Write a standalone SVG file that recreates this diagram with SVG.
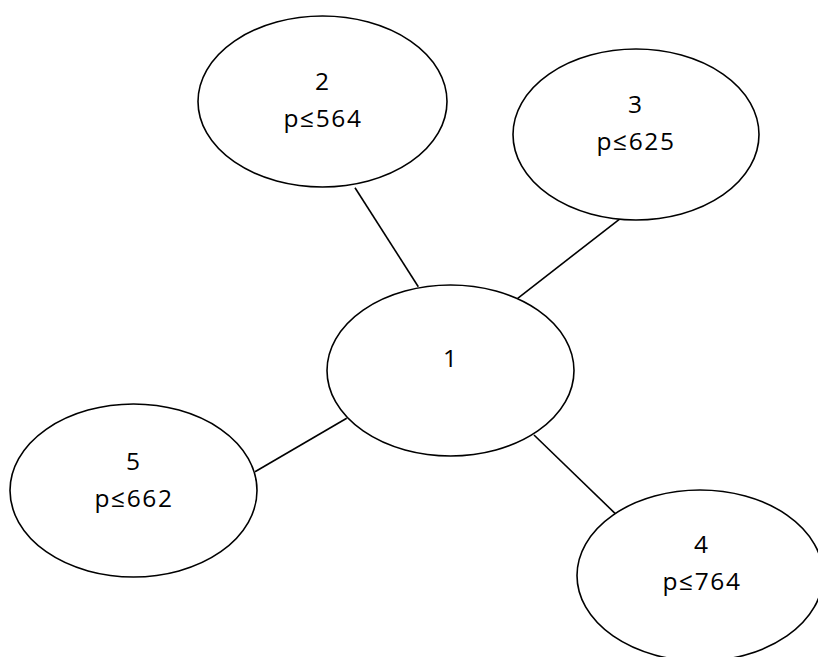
<svg xmlns="http://www.w3.org/2000/svg" width="818" height="657" viewBox="0 0 818 657">
<style>
.n ellipse{fill:#fff;stroke:#000;stroke-width:1.6}
.n text{font-family:"Open Sans","Liberation Sans",sans-serif;font-size:24.5px;fill:#000;text-anchor:middle}
.n text.p{letter-spacing:1.6px}
.c line{stroke:#000;stroke-width:1.6}
</style>
<rect width="818" height="657" fill="#fff"/>
<g id="connectors" class="c">
<line x1="355" y1="187.7" x2="418.3" y2="286.7"/>
<line x1="619.3" y1="219.3" x2="517.7" y2="298.3"/>
<line x1="255" y1="471.7" x2="346.7" y2="418.3"/>
<line x1="534" y1="435" x2="616" y2="514.3"/>
</g>
<g id="node1" class="n">
<ellipse cx="450.5" cy="370.5" rx="123.5" ry="85.5"/>
<text x="450" y="367">1</text>
</g>
<g id="node2" class="n">
<ellipse cx="322.5" cy="101.5" rx="124.5" ry="85.5"/>
<text x="322" y="90">2</text>
<text class="p" x="323" y="127">p≤564</text>
</g>
<g id="node3" class="n">
<ellipse cx="636" cy="134.5" rx="123" ry="85.5"/>
<text x="635" y="113">3</text>
<text class="p" x="636" y="150">p≤625</text>
</g>
<g id="node4" class="n">
<ellipse cx="700" cy="575.5" rx="123" ry="85.5"/>
<text x="701" y="553">4</text>
<text class="p" x="702" y="590">p≤764</text>
</g>
<g id="node5" class="n">
<ellipse cx="133.5" cy="490.5" rx="123.5" ry="86.5"/>
<text x="133" y="470">5</text>
<text class="p" x="134" y="507">p≤662</text>
</g>
</svg>
